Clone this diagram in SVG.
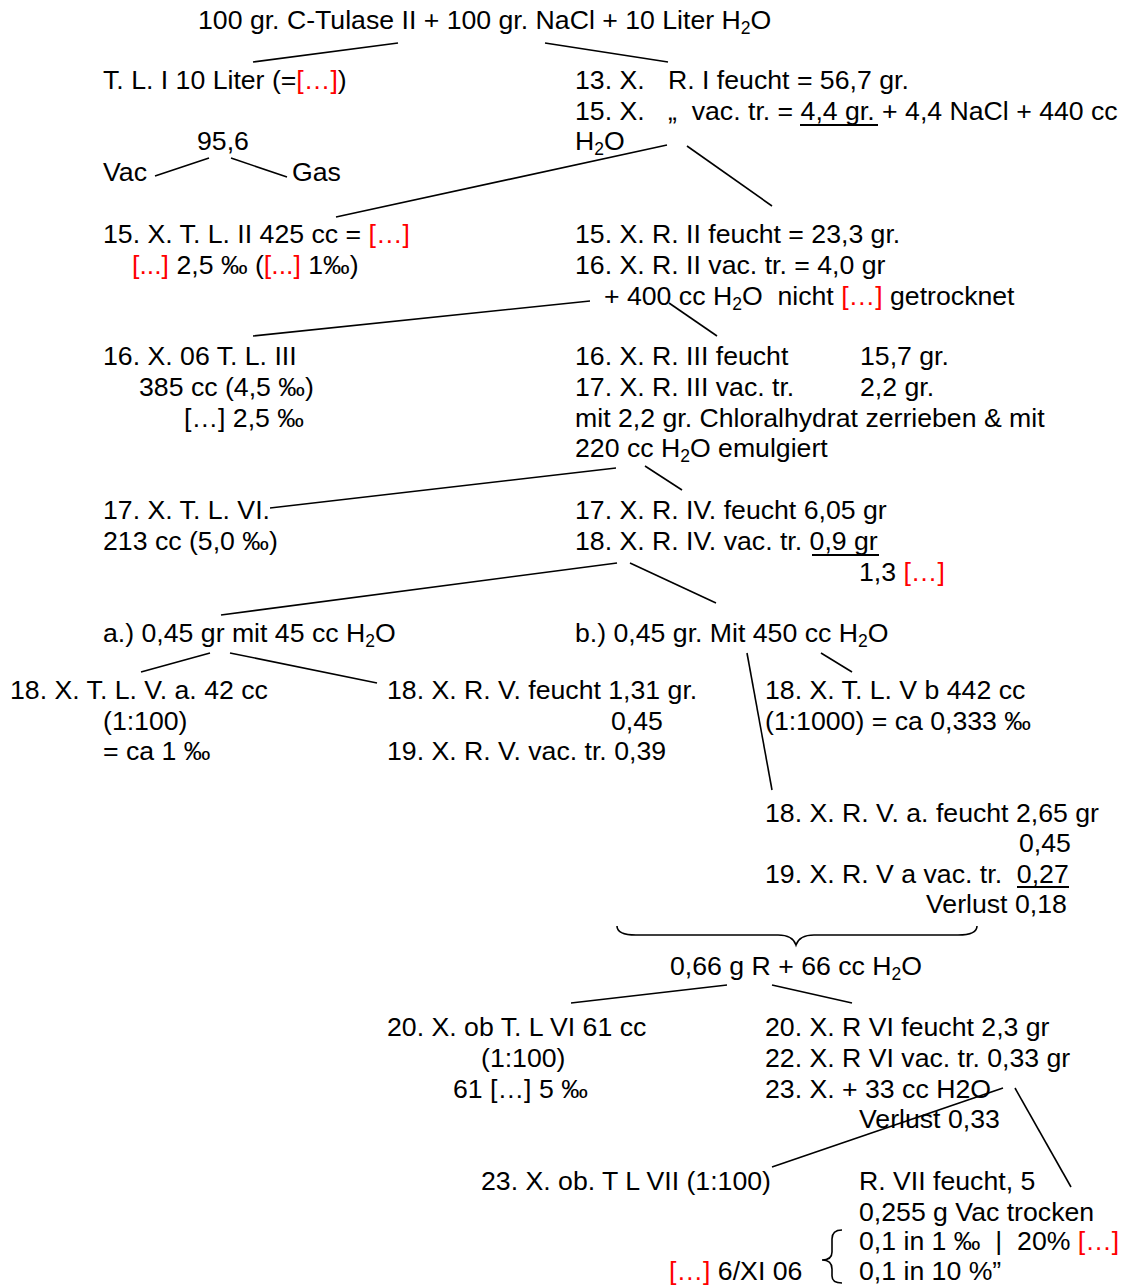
<svg xmlns="http://www.w3.org/2000/svg" width="1132" height="1285" viewBox="0 0 1132 1285">
<style>
text{font-family:"Liberation Sans",Arial,sans-serif;font-size:26.67px;fill:#000}
.r{fill:#ff0000}
.s{font-size:17.5px}
.c line,.c path{stroke:#000;stroke-width:1.6;fill:none}
.u{stroke:#000;stroke-width:1.8}
</style>
<rect width="1132" height="1285" fill="#fff"/>
<g id="connectors" class="c">
<line x1="253" y1="62" x2="398" y2="43"/>
<line x1="545" y1="43" x2="668" y2="62"/>
<line x1="155" y1="176" x2="209" y2="158"/>
<line x1="231" y1="158" x2="287" y2="177"/>
<line x1="336" y1="217" x2="667" y2="145"/>
<line x1="687" y1="146" x2="772" y2="206"/>
<line x1="253" y1="336" x2="590" y2="301"/>
<line x1="669" y1="303" x2="717" y2="336"/>
<line x1="270" y1="508" x2="616" y2="468"/>
<line x1="645" y1="466" x2="682" y2="490"/>
<line x1="221" y1="615" x2="617" y2="563"/>
<line x1="630" y1="563" x2="716" y2="603"/>
<line x1="141" y1="672" x2="210" y2="653"/>
<line x1="230" y1="653" x2="377" y2="683"/>
<line x1="747" y1="653" x2="772" y2="790"/>
<line x1="821" y1="653" x2="852" y2="672"/>
<path d="M617,926 C617,932 622,935 636,935 L778,935 C789,935 794,939 796,945 C798,939 803,935 814,935 L958,935 C972,935 977,932 977,926"/>
<line x1="571" y1="1003" x2="727" y2="985"/>
<line x1="772" y1="985" x2="852" y2="1003"/>
<line x1="772" y1="1167" x2="1003" y2="1088"/>
<line x1="1015" y1="1088" x2="1071" y2="1187"/>
<path d="M842,1230 C835,1230 832,1233 832,1239 L832,1252 C832,1258 828,1260 822,1260 C828,1260 832,1263 832,1269 L832,1276 C832,1281 835,1283 842,1283"/>
</g>
<g id="n_start"><text x="198" y="29">100 gr. C-Tulase II + 100 gr. NaCl + 10 Liter H<tspan class="s" dy="5">2</tspan><tspan dy="-5">O</tspan></text></g>
<g id="n_tl1"><text x="103" y="89">T. L. I 10 Liter (=<tspan class="r">[…]</tspan>)</text></g>
<g id="n_r1"><text x="575" y="89">13. X.</text><text x="668" y="89">R. I feucht = 56,7 gr.</text>
<text x="575" y="120">15. X.</text><text x="668" y="120">„&#160; vac. tr. = 4,4 gr. + 4,4 NaCl + 440 cc</text>
<line class="u" x1="800" y1="125" x2="878" y2="125"/>
<text x="575" y="150">H<tspan class="s" dy="5">2</tspan><tspan dy="-5">O</tspan></text></g>
<g id="n_vacgas"><text x="197" y="150">95,6</text><text x="103" y="181">Vac</text><text x="292" y="181">Gas</text></g>
<g id="n_tl2"><text x="103" y="243">15. X. T. L. II 425 cc = <tspan class="r">[…]</tspan></text>
<text x="132" y="274"><tspan class="r">[...]</tspan> 2,5 ‰ (<tspan class="r">[...]</tspan> 1‰)</text></g>
<g id="n_r2"><text x="575" y="243">15. X. R. II feucht = 23,3 gr.</text>
<text x="575" y="274">16. X. R. II vac. tr. = 4,0 gr</text>
<text x="604" y="305">+ 400 cc H<tspan class="s" dy="5">2</tspan><tspan dy="-5">O&#160; nicht </tspan><tspan class="r">[…]</tspan> getrocknet</text></g>
<g id="n_tl3"><text x="103" y="365">16. X. 06 T. L. III</text>
<text x="139" y="396">385 cc (4,5 ‰)</text>
<text x="184" y="427">[…] 2,5 ‰</text></g>
<g id="n_r3"><text x="575" y="365">16. X. R. III feucht</text><text x="860" y="365">15,7 gr.</text>
<text x="575" y="396">17. X. R. III vac. tr.</text><text x="860" y="396">2,2 gr.</text>
<text x="575" y="427">mit 2,2 gr. Chloralhydrat zerrieben &amp; mit</text>
<text x="575" y="457">220 cc H<tspan class="s" dy="5">2</tspan><tspan dy="-5">O emulgiert</tspan></text></g>
<g id="n_tl6"><text x="103" y="519">17. X. T. L. VI.</text><text x="103" y="550">213 cc (5,0 ‰)</text></g>
<g id="n_r4"><text x="575" y="519">17. X. R. IV. feucht 6,05 gr</text>
<text x="575" y="550">18. X. R. IV. vac. tr. 0,9 gr</text>
<line class="u" x1="812" y1="555" x2="879" y2="555"/>
<text x="859" y="581">1,3 <tspan class="r">[…]</tspan></text></g>
<g id="n_a"><text x="103" y="642">a.) 0,45 gr mit 45 cc H<tspan class="s" dy="5">2</tspan><tspan dy="-5">O</tspan></text></g>
<g id="n_b"><text x="575" y="642">b.) 0,45 gr. Mit 450 cc H<tspan class="s" dy="5">2</tspan><tspan dy="-5">O</tspan></text></g>
<g id="n_tl5a"><text x="10" y="699">18. X. T. L. V. a. 42 cc</text><text x="103" y="730">(1:100)</text><text x="103" y="760">= ca 1 ‰</text></g>
<g id="n_r5"><text x="387" y="699">18. X. R. V. feucht 1,31 gr.</text><text x="611" y="730">0,45</text><text x="387" y="760">19. X. R. V. vac. tr. 0,39</text></g>
<g id="n_tl5b"><text x="765" y="699">18. X. T. L. V b 442 cc</text><text x="765" y="730">(1:1000) = ca 0,333 ‰</text></g>
<g id="n_r5a"><text x="765" y="822">18. X. R. V. a. feucht 2,65 gr</text>
<text x="1019" y="852">0,45</text>
<text x="765" y="883">19. X. R. V a vac. tr.&#160; 0,27</text>
<line class="u" x1="1017" y1="887" x2="1069" y2="887"/>
<text x="926" y="913">Verlust 0,18</text></g>
<g id="n_sum"><text x="670" y="975">0,66 g R + 66 cc H<tspan class="s" dy="5">2</tspan><tspan dy="-5">O</tspan></text></g>
<g id="n_tl6b"><text x="387" y="1036">20. X. ob T. L VI 61 cc</text><text x="481" y="1067">(1:100)</text><text x="453" y="1098">61 […] 5 ‰</text></g>
<g id="n_r6"><text x="765" y="1036">20. X. R VI feucht 2,3 gr</text>
<text x="765" y="1067">22. X. R VI vac. tr. 0,33 gr</text>
<text x="765" y="1098">23. X. + 33 cc H2O</text>
<text x="859" y="1128">Verlust 0,33</text></g>
<g id="n_tl7"><text x="481" y="1190">23. X. ob. T L VII (1:100)</text></g>
<g id="n_r7"><text x="859" y="1190">R. VII feucht, 5</text>
<text x="859" y="1221">0,255 g Vac trocken</text>
<text x="859" y="1250">0,1 in 1 ‰&#160; |&#160; 20% <tspan class="r">[…]</tspan></text>
<text x="859" y="1280">0,1 in 10 %”</text></g>
<g id="n_date"><text x="669" y="1280"><tspan class="r">[…]</tspan> 6/XI 06</text></g>
</svg>
